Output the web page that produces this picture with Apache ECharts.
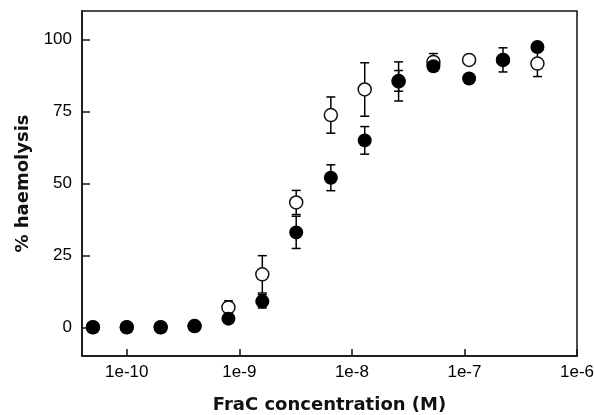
<!DOCTYPE html>
<html>
<head>
<meta charset="utf-8">
<script src="https://cdn.jsdelivr.net/npm/echarts@6/dist/echarts.min.js"></script>
<style>
  html, body { margin: 0; padding: 0; background: #fff; }
  #chart { width: 594px; height: 415px; }
</style>
</head>
<body>
<div id="chart"></div>
<script>
// FraC concentration (M)
var conc = [5e-11, 1e-10, 2e-10, 4e-10, 8e-10, 1.6e-9, 3.2e-9, 6.5e-9, 1.3e-8, 2.6e-8, 5.3e-8, 1.1e-7, 2.2e-7, 4.45e-7];

// filled circles
var filledMean = [0, 0, 0, 0.4, 3, 9, 33, 52, 65, 85.7, 90.8, 86.5, 93, 97.5];
var filledErr  = [0, 0, 0, 0, 0, 2.3, 5.6, 4.5, 4.8, 3.6, 0, 0, 4.2, 0];

// open circles
var openMean = [0, 0, 0, 0.4, 6.9, 18.4, 43.4, 73.8, 82.7, 85.5, 92.3, 93, 93, 91.7];
var openErr  = [0, 0, 0, 0, 2.3, 6.5, 4.2, 6.3, 9.3, 6.8, 2.9, 0, 0, 4.5];

var yTicks = [0, 25, 50, 75, 100];

const chart = echarts.init(document.getElementById('chart'));

function pairs(means) {
    return conc.map((c, i) => [c, means[i]]);
}

function errorBars(means, errs) {
    var data = [];
    conc.forEach((c, i) => {
        if (errs[i] > 0) data.push([c, means[i] - errs[i], means[i] + errs[i]]);
    });
    return {
        type: 'custom',
        data: data,
        encode: { x: 0, y: [1, 2] },
        z: 1,
        silent: true,
        renderItem: function (params, api) {
            var x = api.value(0);
            var lo = api.coord([x, api.value(1)]);
            var hi = api.coord([x, api.value(2)]);
            var w = 4.5;
            var st = { stroke: '#000', lineWidth: 1.5 };
            return {
                type: 'group',
                children: [
                    { type: 'line', shape: { x1: lo[0], y1: lo[1], x2: hi[0], y2: hi[1] }, style: st },
                    { type: 'line', shape: { x1: lo[0] - w, y1: lo[1], x2: lo[0] + w, y2: lo[1] }, style: st },
                    { type: 'line', shape: { x1: hi[0] - w, y1: hi[1], x2: hi[0] + w, y2: hi[1] }, style: st }
                ]
            };
        }
    };
}

var tickFont = { fontFamily: 'Liberation Sans, Arial, sans-serif', fontSize: 17, color: '#000' };
var nameFont = { fontFamily: 'DejaVu Sans, sans-serif', fontSize: 18, fontWeight: 'bold', color: '#111' };

var option = {
    animation: false,
    backgroundColor: '#fff',
    grid: {
        left: 82, right: 17, top: 11, bottom: 59,
        outerBoundsMode: 'none',
        containLabel: false,
        show: true, borderColor: '#111', borderWidth: 1.5
    },
    xAxis: {
        type: 'log',
        logBase: 10,
        min: 4e-11,
        max: 1e-6,
        name: 'FraC concentration (M)',
        nameLocation: 'middle',
        nameGap: 40,
        nameTextStyle: nameFont,
        axisLine: { onZero: false, lineStyle: { color: '#111', width: 1.5 } },
        axisTick: { inside: true, length: 7, lineStyle: { color: '#111', width: 1.5 } },
        axisLabel: Object.assign({
            margin: 8,
            showMinLabel: false,
            formatter: function (v) { return '1e' + Math.round(Math.log10(v)); }
        }, tickFont),
        minorTick: { show: false },
        splitLine: { show: false }
    },
    yAxis: {
        type: 'value',
        min: -10,
        max: 110,
        name: '% haemolysis',
        nameLocation: 'middle',
        nameGap: 48,
        nameTextStyle: nameFont,
        axisLine: { lineStyle: { color: '#111', width: 1.5 } },
        axisTick: { inside: true, length: 8, customValues: yTicks, lineStyle: { color: '#111', width: 1.5 } },
        axisLabel: Object.assign({ margin: 10, customValues: yTicks }, tickFont),
        splitLine: { show: false }
    },
    series: [
        errorBars(openMean, openErr),
        errorBars(filledMean, filledErr),
        {
            type: 'scatter',
            data: pairs(openMean),
            symbol: 'circle',
            symbolSize: 13,
            z: 3,
            itemStyle: { color: '#fff', borderColor: '#111', borderWidth: 1.5, opacity: 1 }
        },
        {
            type: 'scatter',
            data: pairs(filledMean),
            symbol: 'circle',
            symbolSize: 14,
            z: 4,
            itemStyle: { color: '#000', opacity: 1 }
        }
    ]
};

option && chart.setOption(option);
</script>
</body>
</html>
